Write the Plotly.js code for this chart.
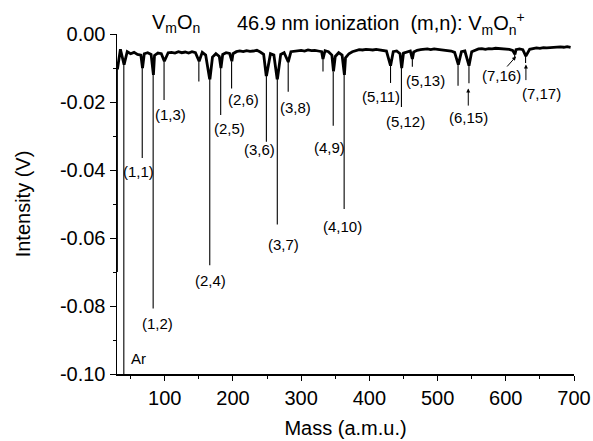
<!DOCTYPE html>
<html><head><meta charset="utf-8">
<script src="https://cdn.plot.ly/plotly-3.0.1.min.js"></script>
<style>html,body{margin:0;padding:0;background:#fff}#chart{width:593px;height:441px}</style>
</head><body><div id="chart"></div>
<script>
// Baseline of the spectrum (mass in a.m.u., intensity in V)
const baseMass = [30,35,40,45,50,55,60,65,70,75,80,85,90,95,100,105,110,115,120,125,130,135,140,145,150,155,160,165,170,175,180,185,190,195,200,205,210,215,220,225,230,235,240,245,250,255,260,265,270,275,280,285,290,295,300,305,310,315,320,325,330,335,340,345,350,355,360,365,370,375,380,385,390,395,400,405,410,415,420,425,430,435,440,445,450,455,460,465,470,475,480,485,490,495,500,505,510,515,520,525,530,535,540,545,550,555,560,565,570,575,580,585,590,595,600,605,610,615,620,625,630,635,640,645,650,655,660,665,670,675,680,685,690,695];
const baseIntensity = [-0.0030,-0.0045,-0.0055,-0.0052,-0.0058,-0.0054,-0.0060,-0.0062,-0.0058,-0.0055,-0.0060,-0.0063,-0.0056,-0.0058,-0.0062,-0.0055,-0.0054,-0.0056,-0.0052,-0.0055,-0.0053,-0.0056,-0.0052,-0.0055,-0.0058,-0.0054,-0.0062,-0.0075,-0.0068,-0.0058,-0.0066,-0.0060,-0.0055,-0.0057,-0.0058,-0.0052,-0.0050,-0.0052,-0.0049,-0.0051,-0.0050,-0.0048,-0.0053,-0.0060,-0.0072,-0.0058,-0.0062,-0.0072,-0.0060,-0.0055,-0.0058,-0.0052,-0.0050,-0.0049,-0.0048,-0.0050,-0.0047,-0.0049,-0.0048,-0.0050,-0.0052,-0.0049,-0.0052,-0.0062,-0.0066,-0.0055,-0.0062,-0.0070,-0.0058,-0.0052,-0.0049,-0.0046,-0.0047,-0.0045,-0.0046,-0.0047,-0.0045,-0.0047,-0.0048,-0.0050,-0.0056,-0.0052,-0.0050,-0.0058,-0.0056,-0.0052,-0.0050,-0.0053,-0.0048,-0.0046,-0.0045,-0.0044,-0.0046,-0.0044,-0.0045,-0.0046,-0.0048,-0.0047,-0.0050,-0.0054,-0.0060,-0.0052,-0.0050,-0.0056,-0.0052,-0.0047,-0.0044,-0.0043,-0.0045,-0.0043,-0.0044,-0.0042,-0.0043,-0.0044,-0.0043,-0.0045,-0.0048,-0.0046,-0.0044,-0.0046,-0.0050,-0.0045,-0.0043,-0.0041,-0.0042,-0.0040,-0.0041,-0.0040,-0.0039,-0.0040,-0.0038,-0.0039,-0.0037,-0.0039];

// Peaks: position, tip, and level of the broad foot
const peakMass  = [30.5, 40, 67, 83, 99, 150, 166, 182, 198, 249, 265, 281, 332, 347, 363, 431, 447, 463, 530, 546, 613, 629];
const peakDepth = [-0.070, -0.110, -0.0365, -0.0807, -0.0194, -0.014, -0.068, -0.0238, -0.016, -0.0317, -0.056, -0.017, -0.011, -0.027, -0.0515, -0.0144, -0.0215, -0.0096, -0.0152, -0.0145, -0.0068, -0.0085];
const peakFoot  = [-0.010, -0.009, -0.010, -0.012, -0.008, -0.008, -0.013, -0.010, -0.008, -0.012, -0.013, -0.008, -0.007, -0.011, -0.012, -0.009, -0.010, -0.007, -0.009, -0.009, -0.006, -0.0065];

// Labels
const labelText = ['Ar','(1,1)','(1,2)','(1,3)','(2,4)','(2,5)','(2,6)','(3,6)','(3,7)','(3,8)','(4,9)','(4,10)','(5,11)','(5,12)','(5,13)','(6,15)','(7,16)','(7,17)'];
const xTickVals = [100,200,300,400,500,600,700];
const yTickVals = [0,-0.02,-0.04,-0.06,-0.08,-0.10];
const yTickText = ['0.00','-0.02','-0.04','-0.06','-0.08','-0.10'];

// label placement (layout)
const labelPos = [[60.8,-0.0955],[61.5,-0.0405],[89.3,-0.085],[108.3,-0.0238],[166.4,-0.0724],[194.7,-0.0278],[215,-0.0194],[238.6,-0.0341],[273.8,-0.0619],[291.4,-0.0216],[341,-0.0335],[361,-0.0567],[416.5,-0.0185],[452.4,-0.0258],[481.7,-0.0138],[546,-0.0245],[593,-0.0121],[653,-0.0175]];

// spectrum line with feet
let pts = [];
baseMass.forEach((m,i)=>{
  if (!peakMass.some(p=>Math.abs(p-m)<1.2)) pts.push([m, baseIntensity[i]]);
});
peakMass.forEach((m,i)=>{ pts.push([m-0.4, peakFoot[i]]); pts.push([m+0.4, peakFoot[i]]); });
pts.sort((a,b)=>a[0]-b[0]);
const specX = pts.map(p=>p[0]), specY = pts.map(p=>p[1]);

const spikeX = [], spikeY = [];
peakMass.forEach((m,i)=>{ spikeX.push(m,m,null); spikeY.push(peakFoot[i], peakDepth[i], null); });

const F = 'Liberation Sans, Arial, sans-serif';
const ann = labelText.map((t,i)=>({x:labelPos[i][0], y:labelPos[i][1], xref:'x', yref:'y', text:t, showarrow:false, xanchor:'center', yanchor:'middle', font:{family:F,size:15,color:'#000'}}));
const arrow = (x0,y0,x1,y1)=>({x:x1,y:y1,ax:x0,ay:y0,xref:'x',yref:'y',axref:'x',ayref:'y',text:'',showarrow:true,arrowhead:2,arrowsize:0.8,arrowwidth:1,arrowcolor:'#000'});
ann.push(arrow(545,-0.0215,545,-0.0160));
ann.push(arrow(600,-0.0100,615,-0.0066));
ann.push(arrow(629.5,-0.0140,629.5,-0.0090));
ann.push({xref:'paper',yref:'paper',x:0.129,y:1.032,xanchor:'center',yanchor:'middle',showarrow:false,text:'V<sub>m</sub>O<sub>n</sub>',font:{family:F,size:20,color:'#000'}});
ann.push({xref:'paper',yref:'paper',x:0.2576,y:1.032,xanchor:'left',yanchor:'middle',showarrow:false,text:'46.9 nm ionization &nbsp;(m,n): V<sub>m</sub>O<sub>n</sub><sup>+</sup>',font:{family:F,size:20,color:'#000'}});

const data = [
  {x:specX, y:specY, type:'scatter', mode:'lines', line:{color:'#000', width:2.8}, hoverinfo:'skip'},
  {x:spikeX, y:spikeY, type:'scatter', mode:'lines', line:{color:'#000', width:1.1}, hoverinfo:'skip', connectgaps:false}
];
const layout = {
  width:593, height:441, showlegend:false,
  paper_bgcolor:'#fff', plot_bgcolor:'#fff',
  margin:{l:117, r:19, t:34, b:67},
  font:{family:F, color:'#000'},
  xaxis:{range:[30,700], tickmode:'array', tickvals:xTickVals, ticks:'outside', ticklen:5, tickwidth:1, tickcolor:'#000',
    showline:true, linecolor:'#000', linewidth:1.5, showgrid:false, zeroline:false, tickfont:{family:F,size:20},
    minor:{tickvals:[50,150,250,350,450,550,650], ticks:'outside', ticklen:3, tickcolor:'#000', tickwidth:1},
    title:{text:'Mass (a.m.u.)', font:{family:F,size:20}, standoff:13}},
  yaxis:{range:[-0.1,0], tickmode:'array', tickvals:yTickVals, ticktext:yTickText, ticks:'outside', ticklen:6, tickwidth:1, tickcolor:'#000',
    showline:true, linecolor:'#000', linewidth:1.5, showgrid:false, zeroline:false, tickfont:{family:F,size:20},
    minor:{tickvals:[-0.01,-0.03,-0.05,-0.07,-0.09], ticks:'outside', ticklen:3, tickcolor:'#000', tickwidth:1},
    title:{text:'Intensity (V)', font:{family:F,size:20}, standoff:24}},
  annotations: ann
};
Plotly.newPlot('chart', data, layout, {staticPlot:true, displayModeBar:false});
</script></body></html>
